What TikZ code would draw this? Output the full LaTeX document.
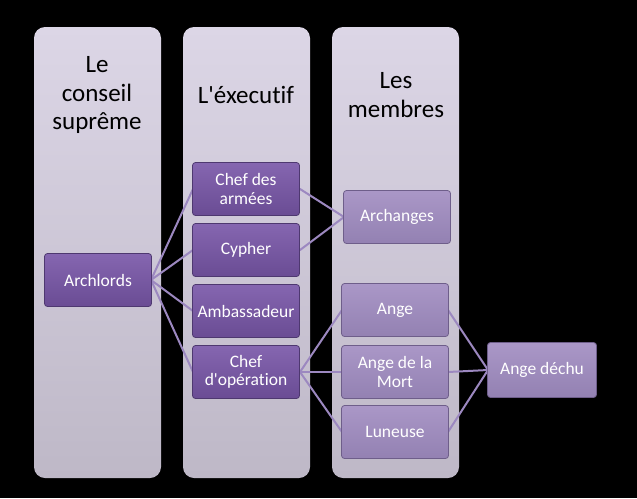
\documentclass[tikz,border=0pt]{standalone}
\usepackage{fontspec}
\setmainfont{Carlito}[Ligatures={TeXOff,NoCommon}]
\definecolor{colhaut}{HTML}{DCD6E6}
\definecolor{colbas}{HTML}{BEB8C7}
\definecolor{chefhaut}{HTML}{8566B0}
\definecolor{chefbas}{HTML}{6A4C94}
\definecolor{chefbord}{HTML}{4E3870}
\definecolor{membrehaut}{HTML}{AA97C7}
\definecolor{membrebas}{HTML}{9381B2}
\definecolor{membrebord}{HTML}{6E5E8A}
\definecolor{lienc}{HTML}{9C88C0}
\begin{document}
\begin{tikzpicture}[x=1pt,y=-1pt,line join=round,line cap=round,
	colonne/.style={rounded corners=11pt,top color=colhaut,bottom color=colbas},
	titre/.style={font=\fontsize{25}{28.5}\selectfont,align=center,text=black},
	chef/.style={draw=chefbord,line width=0.8pt,rounded corners=3pt,top color=chefhaut,bottom color=chefbas,
		minimum width=107pt,minimum height=53pt,inner sep=1pt,align=center,text=white,
		font=\fontsize{17.5}{18.5}\selectfont},
	membre/.style={chef,draw=membrebord,top color=membrehaut,bottom color=membrebas},
	lien/.style={draw=lienc,line width=2pt}]
	\fill[black] (0,0) rectangle (637,498);
	\useasboundingbox (0,0) rectangle (637,498);
	% colonnes
	\path[colonne] (34,27) rectangle (161,478);
	\path[colonne] (183,27) rectangle (310,478);
	\path[colonne] (332,27) rectangle (459,478);
	\node[titre] (t1) at (97,95) {Le\\conseil\\suprême};
	\node[titre] (t2) at (246,95) {L'éxecutif};
	\node[titre] (t3) at (396,95) {Les\\membres};
	% liens
	\coordinate (a) at (151,280);
	\foreach \y in {189,250,311,372}
		\draw[lien] (a) -- (193,\y);
	\draw[lien] (300,189) -- (344,217);
	\draw[lien] (300,250) -- (344,217);
	\foreach \y in {310,372,432}{
		\draw[lien] (300,372) -- (342,\y);
		\draw[lien] (448,\y) -- (488,370);
	}
	% boites
	\node[chef] (arch) at (98,280) {Archlords};
	\node[chef] (armees) at (246,189) {Chef des\\armées};
	\node[chef] (cypher) at (246,250) {Cypher};
	\node[chef] (amb) at (246,311) {Ambassadeur};
	\node[chef] (oper) at (246,372) {Chef\\d'opération};
	\node[membre] (archanges) at (397,217) {Archanges};
	\node[membre] (ange) at (395,310) {Ange};
	\node[membre] (mort) at (395,372) {Ange de la\\Mort};
	\node[membre] (lun) at (395,432) {Luneuse};
	\node[membre,minimum width=109pt,minimum height=55pt] (dechu) at (542,370) {Ange déchu};
\end{tikzpicture}
\end{document}
